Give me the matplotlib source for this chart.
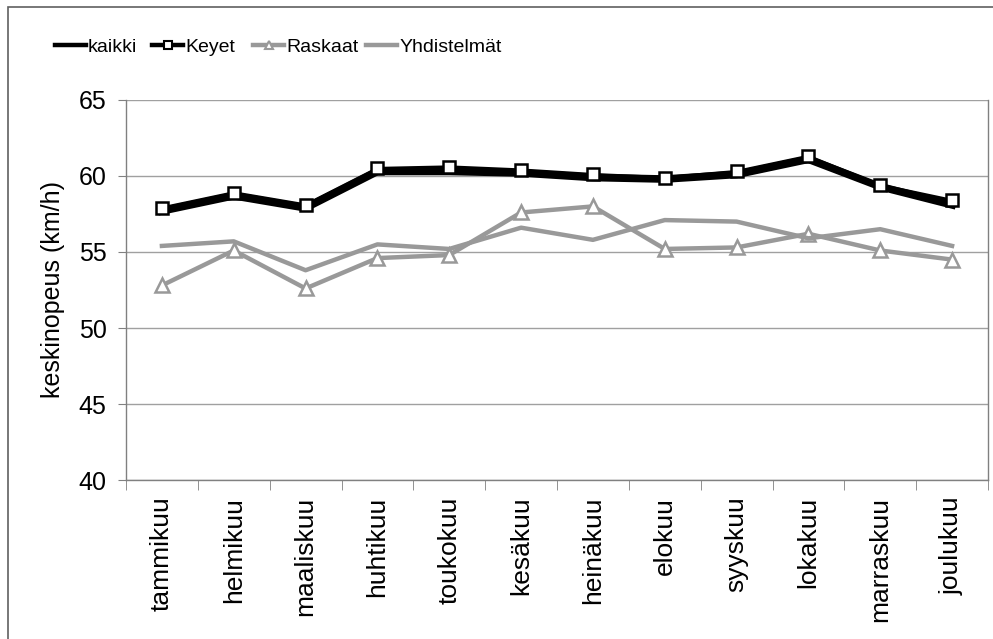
import matplotlib.pyplot as plt
from matplotlib.patches import Rectangle

# Monthly average speeds (km/h)
months = ["tammikuu", "helmikuu", "maaliskuu", "huhtikuu", "toukokuu", "kesäkuu",
          "heinäkuu", "elokuu", "syyskuu", "lokakuu", "marraskuu", "joulukuu"]
kaikki = [57.7, 58.7, 57.9, 60.3, 60.3, 60.2, 59.9, 59.8, 60.1, 61.1, 59.3, 58.1]
keyet = [57.9, 58.9, 58.1, 60.5, 60.6, 60.4, 60.1, 59.9, 60.3, 61.3, 59.4, 58.4]
raskaat = [52.8, 55.1, 52.6, 54.6, 54.8, 57.6, 58.0, 55.2, 55.3, 56.2, 55.1, 54.5]
yhdistelmat = [55.4, 55.7, 53.8, 55.5, 55.2, 56.6, 55.8, 57.1, 57.0, 55.9, 56.5, 55.4]

gray = "#999999"
plt.rcParams["font.family"] = ["Liberation Sans", "DejaVu Sans"]

fig = plt.figure(figsize=(9.93, 6.39), dpi=100)
ax = fig.add_axes([126 / 993, 1 - 480 / 639, 862 / 993, 380 / 639])

x = list(range(len(months)))
l1, = ax.plot(x, kaikki, color="black", lw=5.5, solid_joinstyle="round", label="kaikki", zorder=3)
l2, = ax.plot(x, keyet, color="black", lw=2.2, marker="s", ms=8, mfc="white", mec="black",
              mew=1.8, label="Keyet", zorder=4)
l3, = ax.plot(x, raskaat, color=gray, lw=3.2, marker="^", ms=9.5, mfc="white", mec=gray,
              mew=1.8, label="Raskaat", zorder=5)
l4, = ax.plot(x, yhdistelmat, color=gray, lw=3.2, label="Yhdistelmät", zorder=5)

ax.set_xlim(-0.5, 11.5)
ax.set_ylim(40, 65)
ax.set_yticks([40, 45, 50, 55, 60, 65])
ax.set_xticks(x)
ax.set_xticklabels(months, rotation=90, fontsize=19)
ax.set_xticks([i - 0.5 for i in range(13)], minor=True)
ax.tick_params(axis="x", which="major", length=0, pad=12)
ax.tick_params(axis="x", which="minor", length=7, color="#808080", direction="out")
ax.tick_params(axis="y", length=6, color="#808080", direction="out", labelsize=18, pad=8)
ax.grid(axis="y", color="#a0a0a0", lw=1)
ax.set_axisbelow(True)
ax.set_ylabel("keskinopeus (km/h)", fontsize=18, labelpad=10)

for side in ["left", "bottom", "right"]:
    ax.spines[side].set_color("#808080")
    ax.spines[side].set_linewidth(1)
ax.spines["top"].set_visible(False)

# one legend per entry so each one sits where the original has it
legend_x = [55, 152, 253, 366]
for line, lx in zip([l1, l2, l3, l4], legend_x):
    leg = fig.legend(handles=[line], loc="center left",
                     bbox_to_anchor=(lx / 993, 1 - 47 / 639),
                     frameon=False, borderpad=0, borderaxespad=0, handlelength=1.6,
                     handletextpad=0.1, prop={"size": 14})
    legline = leg.get_lines()[0]
    legline.set_linewidth(3.2)
    legline.set_markersize(5.5)
    legline.set_markeredgewidth(1.5)

fig.patches.append(Rectangle((8 / 993, -0.05), 1.1, 1 - 7 / 639 + 0.05,
                             transform=fig.transFigure, fill=False,
                             edgecolor="#606060", lw=1.2))

plt.savefig("out.png", dpi=100)
